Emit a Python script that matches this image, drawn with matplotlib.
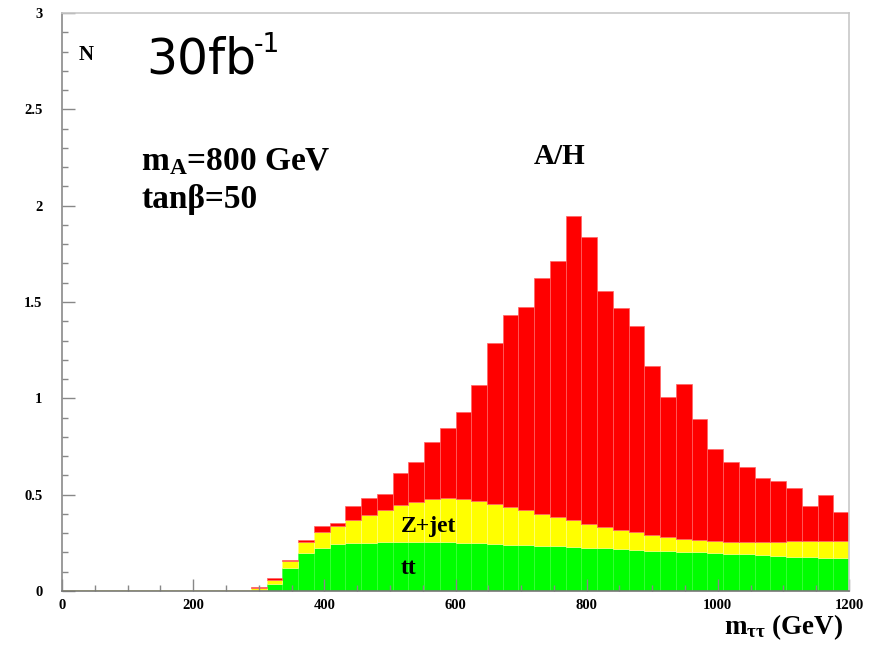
import matplotlib
matplotlib.use("Agg")
import matplotlib.pyplot as plt
import numpy as np
from matplotlib.ticker import MultipleLocator, FixedLocator, FixedFormatter

# ---------------- data ----------------
bin_width = 24.0
bin_left = np.arange(0, 1200, 24.0)   # 50 bins, 0..1200 GeV

# ttbar background (green)
tt = np.array([0.002]*12 + [
    0.005, 0.035, 0.118, 0.196, 0.225, 0.242, 0.247, 0.251, 0.253, 0.254,
    0.254, 0.254, 0.253, 0.251, 0.249, 0.244, 0.241, 0.238, 0.234, 0.231,
    0.228, 0.224, 0.221, 0.217, 0.214, 0.210, 0.207, 0.203, 0.200, 0.196,
    0.193, 0.191, 0.188, 0.184, 0.179, 0.176, 0.172, 0.171])

# Z+jet background (yellow)
zjet = np.array([0.002]*12 + [
    0.012, 0.023, 0.038, 0.060, 0.080, 0.097, 0.121, 0.145, 0.167, 0.191,
    0.208, 0.222, 0.228, 0.228, 0.220, 0.207, 0.193, 0.182, 0.168, 0.151,
    0.139, 0.125, 0.111, 0.100, 0.090, 0.082, 0.073, 0.069, 0.065, 0.065,
    0.063, 0.063, 0.066, 0.070, 0.078, 0.081, 0.085, 0.086])

# A/H signal (red)
ah = np.array([0.0]*12 + [
    0.003, 0.007, 0.007, 0.007, 0.034, 0.012, 0.075, 0.088, 0.085, 0.166,
    0.209, 0.296, 0.367, 0.448, 0.600, 0.838, 0.997, 1.056, 1.222, 1.329,
    1.581, 1.486, 1.225, 1.153, 1.069, 0.874, 0.727, 0.804, 0.629, 0.474,
    0.413, 0.391, 0.331, 0.317, 0.276, 0.184, 0.241, 0.155])

x_ticks = [0, 200, 400, 600, 800, 1000, 1200]
x_tick_labels = ["0", "200", "400", "600", "800", "1000", "1200"]
y_ticks = [0, 0.5, 1, 1.5, 2, 2.5, 3]
y_tick_labels = ["0", "0.5", "1", "1.5", "2", "2.5", "3"]

# ---------------- style ----------------
plt.rcParams["mathtext.fontset"] = "custom"
plt.rcParams["mathtext.rm"] = "Liberation Serif:bold"
plt.rcParams["mathtext.bf"] = "Liberation Serif:bold"
plt.rcParams["mathtext.it"] = "Liberation Serif:bold"

W, H = 880, 654
fig = plt.figure(figsize=(W / 100, H / 100), dpi=100)
ax = fig.add_axes([62 / W, 63 / H, 787 / W, 578 / H])

ax.bar(bin_left, tt, width=bin_width, align="edge", color="#00ff00",
       edgecolor="#3cff3c", linewidth=0.4)
ax.bar(bin_left, zjet, width=bin_width, bottom=tt, align="edge",
       color="#ffff00", edgecolor="#ffff80", linewidth=0.5)
m = ah > 0
ax.bar(bin_left[m], ah[m], width=bin_width, bottom=(tt + zjet)[m], align="edge",
       color="#ff0000", edgecolor="#ff6464", linewidth=0.5)

ax.set_xlim(0, 1200)
ax.set_ylim(0, 3)

ax.xaxis.set_major_locator(FixedLocator(x_ticks))
ax.xaxis.set_major_formatter(FixedFormatter(x_tick_labels))
ax.xaxis.set_minor_locator(MultipleLocator(50))
ax.yaxis.set_major_locator(FixedLocator(y_ticks))
ax.yaxis.set_major_formatter(FixedFormatter(y_tick_labels))
ax.yaxis.set_minor_locator(MultipleLocator(0.1))

ax.tick_params(which="both", direction="in", color="#888888", width=1.0)
ax.tick_params(which="major", length=9)
ax.tick_params(which="minor", length=4.3)
ax.tick_params(axis="x", which="major", pad=5.5)
ax.tick_params(axis="y", which="major", pad=14)
for lab in ax.get_xticklabels() + ax.get_yticklabels():
    lab.set_fontfamily("Liberation Serif")
    lab.set_fontweight("bold")
    lab.set_fontsize(10.5)

for s in ["top", "right"]:
    ax.spines[s].set_color("#c8c8c8")
    ax.spines[s].set_linewidth(1.2)
ax.spines["left"].set_color("#8a8a8a")
ax.spines["bottom"].set_color("#777777")
ax.spines["left"].set_linewidth(1.2)
ax.spines["bottom"].set_linewidth(1.2)
ax.set_zorder(1)

def ftext(px, py, s, **kw):
    fig.text(px / W, 1 - py / H, s, **kw)

serif = dict(fontfamily="Liberation Serif", fontweight="bold", va="baseline", ha="left")

ftext(79, 60, "N", fontsize=15, **serif)
ftext(146, 73, "30fb", fontsize=35, fontfamily="DejaVu Sans", va="baseline", ha="left")
ftext(254, 52, "-1", fontsize=19, fontfamily="DejaVu Sans", va="baseline", ha="left")
ftext(141, 170, r"m$_{\mathbf{A}}$=800 GeV", fontsize=24, **serif)
ftext(141, 208, "tanβ=50", fontsize=24, **serif)
ftext(534, 164, "A/H", fontsize=21, **serif)
ftext(401, 532, "Z+jet", fontsize=17, **serif)
ftext(401, 574, "tt", fontsize=17, **serif)
ftext(724, 634, r"m$_{\mathbf{\tau\tau}}$ (GeV)", fontsize=19.5, **serif)

fig.savefig("out.png", dpi=100)
